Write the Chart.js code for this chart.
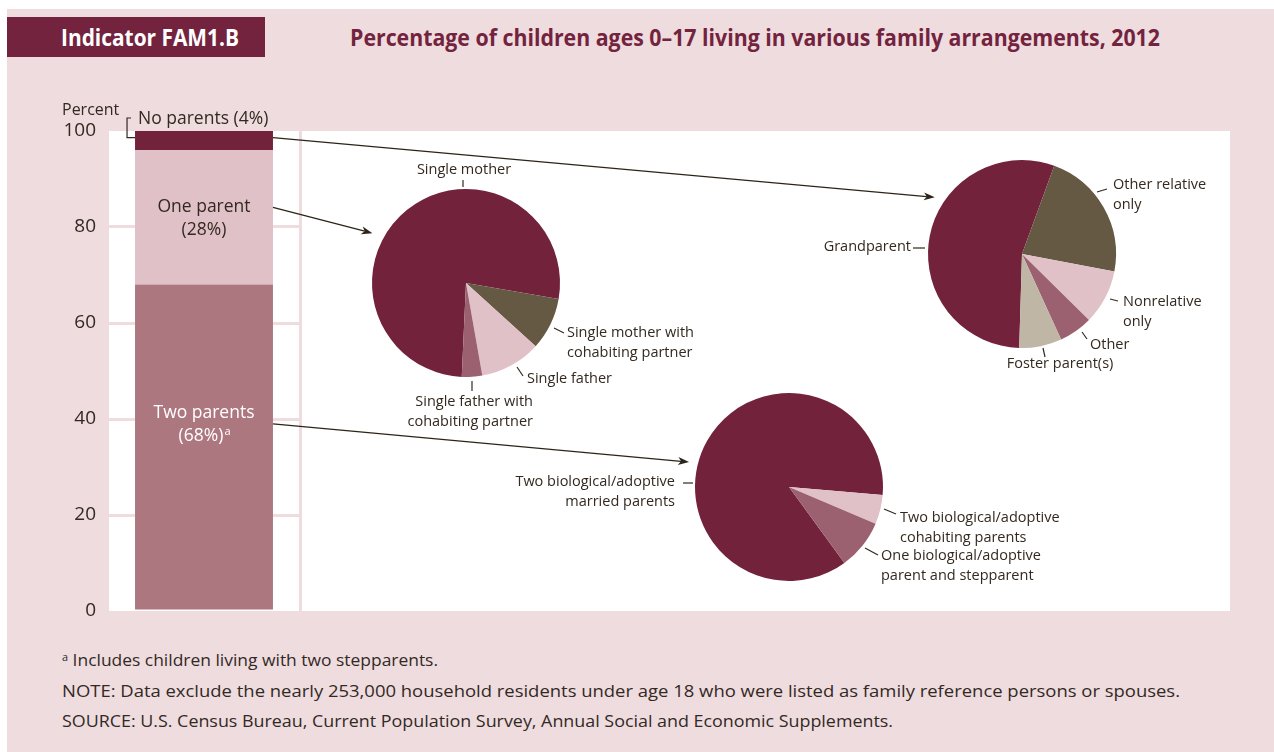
<!DOCTYPE html>
<html>
<head>
<meta charset="utf-8">
<title>Indicator FAM1.B</title>
<script src="https://cdn.jsdelivr.net/npm/chart.js@4.4.0/dist/chart.umd.min.js"></script>
<style>
  body { margin: 0; width: 1274px; height: 752px; overflow: hidden; position: relative; background: #fff;
         font-family: "Open Sans", sans-serif; color: #33291f; }
  .abs { position: absolute; white-space: nowrap; }
  #backdrop { left: 7px; top: 9px; width: 1267px; height: 743px; background: #eedcdf; }
  #band { left: 7px; top: 17px; width: 258px; height: 40px; background: #73233d; }
  .heading { top: 17px; line-height: 40px; font-weight: bold; font-size: 24px; transform-origin: left center; }
  #indicator { left: 61px; color: #fff; }
  #subtitle { left: 350px; color: #73233d; }
  #piePanel { left: 302px; top: 131px; width: 928px; height: 480px; background: #fff; }
  .note { left: 62px; font-size: 16px; line-height: 22px; transform-origin: left center; }
  .note sup { font-size: 10px; vertical-align: 5px; }
  canvas { position: absolute; }
</style>
</head>
<body>
<div id="backdrop" class="abs"></div>
<div id="band" class="abs"></div>
<div id="indicator" class="abs heading" data-w="178">Indicator FAM1.B</div>
<div id="subtitle" class="abs heading" data-w="810">Percentage of children ages 0–17 living in various family arrangements, 2012</div>
<div id="piePanel" class="abs"></div>
<div class="abs note" style="top:646px" data-w="376"><sup>a</sup> Includes children living with two stepparents.</div>
<div class="abs note" style="top:680px" data-w="1118">NOTE: Data exclude the nearly 253,000 household residents under age 18 who were listed as family reference persons or spouses.</div>
<div class="abs note" style="top:710px" data-w="831">SOURCE: U.S. Census Bureau, Current Population Survey, Annual Social and Economic Supplements.</div>

<canvas id="barChart"></canvas>
<canvas id="pieOne"></canvas>
<canvas id="pieNone"></canvas>
<canvas id="pieTwo"></canvas>
<canvas id="arrows"></canvas>

<script>
// ---- data ----
const barCategories = ["2012"];
const twoParents = [68];
const oneParent = [28];
const noParents = [4];
const yTicks = [0, 20, 40, 60, 80, 100];

const oneParentLabels = ["Single mother", "Single mother with cohabiting partner", "Single father", "Single father with cohabiting partner"];
const oneParentValues = [77, 9, 10.5, 3.5];

const noParentLabels = ["Grandparent", "Other relative only", "Nonrelative only", "Other", "Foster parent(s)"];
const noParentValues = [55.1, 22.4, 9.4, 5.8, 7.3];

const twoParentLabels = ["Two biological/adoptive married parents", "Two biological/adoptive cohabiting parents", "One biological/adoptive parent and stepparent"];
const twoParentValues = [86.4, 5.0, 8.6];

// ---- styling ----
const INK = "#33291f";
const PINK_BG = "#eedcdf";
const MAROON = "#73223c";
const OLIVE = "#655944";
const BLUSH = "#dfc1c7";
const MAUVE = "#9c6170";
const BEIGE = "#bfb6a6";
const ROSE = "#ad7780";
const FONT = '"Open Sans", sans-serif';

// stretch heading and note lines to their set widths
document.querySelectorAll("[data-w]").forEach(el => {
  const w = el.getBoundingClientRect().width;
  el.style.transform = "scaleX(" + (parseFloat(el.dataset.w) / w) + ")";
});

Chart.defaults.font.family = FONT;
Chart.defaults.color = INK;
Chart.defaults.animation = false;
Chart.defaults.devicePixelRatio = 1;
Chart.defaults.plugins.legend.display = false;
Chart.defaults.plugins.tooltip.enabled = false;

function place(canvas, left, top, w, h) {
  canvas.width = w;
  canvas.height = h;
  canvas.style.left = left + "px";
  canvas.style.top = top + "px";
  canvas.style.width = w + "px";
  canvas.style.height = h + "px";
}

// ---- stacked bar ----
const BAR_BOX = { left: 40, top: 95, w: 270, h: 530 };
const barCanvas = document.getElementById("barChart");
place(barCanvas, BAR_BOX.left, BAR_BOX.top, BAR_BOX.w, BAR_BOX.h);

const whiteArea = {
  id: "whiteArea",
  beforeDraw(chart) {
    const { ctx, chartArea: a } = chart;
    ctx.save();
    ctx.fillStyle = "#fff";
    ctx.fillRect(a.left, a.top, a.right - a.left, a.bottom - a.top);
    ctx.restore();
  }
};

const barNotes = {
  id: "barNotes",
  afterDraw(chart) {
    const ctx = chart.ctx;
    const y = chart.scales.y;
    const bar = chart.getDatasetMeta(0).data[0];
    const left = bar.x - bar.width / 2;
    ctx.save();
    ctx.textAlign = "center";
    ctx.textBaseline = "middle";
    ctx.font = "17.5px " + FONT;

    ctx.fillStyle = INK;
    const yOne = y.getPixelForValue(81.8);
    ctx.fillText("One parent", bar.x, yOne - 11.5);
    ctx.fillText("(28%)", bar.x, yOne + 11.5);

    ctx.fillStyle = "#fff";
    const yTwo = y.getPixelForValue(38.75);
    ctx.fillText("Two parents", bar.x, yTwo - 11.5);
    const pct = "(68%)";
    const w = ctx.measureText(pct).width;
    ctx.fillText(pct, bar.x - 3, yTwo + 11.5);
    ctx.font = "11px " + FONT;
    ctx.textAlign = "left";
    ctx.fillText("a", bar.x - 3 + w / 2 + 1, yTwo + 7);

    // bracket label for the thin top segment
    const yb = y.getPixelForValue(98.6);
    const yt = y.top - 13;
    ctx.strokeStyle = INK;
    ctx.lineWidth = 1.2;
    ctx.beginPath();
    ctx.moveTo(left - 4, yt);
    ctx.lineTo(left - 8, yt);
    ctx.lineTo(left - 8, yb);
    ctx.lineTo(left, yb);
    ctx.stroke();
    ctx.fillStyle = INK;
    ctx.font = "17.5px " + FONT;
    ctx.textBaseline = "middle";
    ctx.fillText("No parents (4%)", left + 3, yt + 1);

    ctx.textAlign = "left";
    ctx.font = "16px " + FONT;
    ctx.fillText("Percent", 22, yt - 8);
    ctx.restore();
  }
};

const barChart = new Chart(barCanvas, {
  type: "bar",
  data: {
    labels: barCategories,
    datasets: [
      { label: "Two parents", data: twoParents, backgroundColor: ROSE },
      { label: "One parent", data: oneParent, backgroundColor: BLUSH },
      { label: "No parents", data: noParents, backgroundColor: MAROON }
    ]
  },
  options: {
    responsive: false,
    layout: { autoPadding: false, padding: { left: 0, top: 36, right: 11, bottom: 14 } },
    datasets: { bar: { categoryPercentage: 1, barPercentage: 0.726, borderWidth: 0 } },
    scales: {
      x: { stacked: true, display: false },
      y: {
        stacked: true,
        min: 0,
        max: 100,
        afterFit(scale) {
          scale.width = 69;
          // the layout padding already leaves room for the end labels
          scale.paddingTop = 0;
          scale.paddingBottom = 0;
        },
        afterBuildTicks(scale) { scale.ticks = yTicks.map(v => ({ value: v })); },
        ticks: { padding: 13, font: { size: 19 }, color: INK },
        grid: {
          drawTicks: false,
          lineWidth: 3,
          color: c => (c.tick && (c.tick.value === 0 || c.tick.value === 100)) ? "rgba(0,0,0,0)" : PINK_BG
        },
        border: { display: false }
      }
    }
  },
  plugins: [whiteArea, barNotes]
});

// ---- pies ----
const pieNotes = {
  id: "pieNotes",
  afterDraw(chart, args, opts) {
    const arc = chart.getDatasetMeta(0).data[0];
    const cx = arc.x, cy = arc.y;
    const ctx = chart.ctx;
    ctx.save();
    ctx.strokeStyle = INK;
    ctx.lineWidth = 1.2;
    ctx.fillStyle = INK;
    ctx.font = "14.5px " + FONT;
    ctx.textBaseline = "middle";
    (opts.items || []).forEach(it => {
      ctx.beginPath();
      ctx.moveTo(cx + it.lead[0], cy + it.lead[1]);
      ctx.lineTo(cx + it.lead[2], cy + it.lead[3]);
      ctx.stroke();
      ctx.textAlign = it.align;
      it.text.forEach((line, i) => ctx.fillText(line, cx + it.at[0], cy + it.at[1] + i * 20));
    });
    ctx.restore();
  }
};

function makePie(id, cx, cy, r, pad, labels, values, colors, rotation, items) {
  const canvas = document.getElementById(id);
  const w = pad.l + 2 * r + pad.r;
  const h = pad.t + 2 * r + pad.b;
  place(canvas, cx - r - pad.l, cy - r - pad.t, w, h);
  return new Chart(canvas, {
    type: "pie",
    data: {
      labels: labels,
      datasets: [{ data: values, backgroundColor: colors, borderWidth: 0, hoverOffset: 0, offset: 0 }]
    },
    options: {
      responsive: false,
      rotation: rotation,
      layout: { padding: { left: pad.l, right: pad.r, top: pad.t, bottom: pad.b } },
      plugins: { pieNotes: { items: items } }
    },
    plugins: [pieNotes]
  });
}

const pieOne = makePie("pieOne", 466, 283, 94, { l: 110, r: 240, t: 130, b: 160 },
  oneParentLabels, oneParentValues, [MAROON, OLIVE, BLUSH, MAUVE], 182.6, [
    { text: ["Single mother"], lead: [-3, -103, -3, -96], at: [-2, -113], align: "center" },
    { text: ["Single mother with", "cohabiting partner"], lead: [88, 45, 98, 50], at: [101, 50], align: "left" },
    { text: ["Single father"], lead: [51, 84, 57, 93], at: [61, 96], align: "left" },
    { text: ["Single father with", "cohabiting partner"], lead: [6, 98, 6, 108], at: [67, 119], align: "right" }
  ]);

const pieNone = makePie("pieNone", 1022, 254, 94, { l: 215, r: 150, t: 100, b: 130 },
  noParentLabels, noParentValues, [MAROON, OLIVE, BLUSH, MAUVE, BEIGE], 181.7, [
    { text: ["Other relative", "only"], lead: [75, -62, 85, -65], at: [91, -69], align: "left" },
    { text: ["Grandparent"], lead: [-109, -6, -97, -6], at: [-111, -7], align: "right" },
    { text: ["Nonrelative", "only"], lead: [88, 45, 96, 47], at: [101, 48], align: "left" },
    { text: ["Other"], lead: [60, 78, 65, 85], at: [68, 91], align: "left" },
    { text: ["Foster parent(s)"], lead: [21, 94, 23, 103], at: [38, 110], align: "center" }
  ]);

const pieTwo = makePie("pieTwo", 789, 487, 94, { l: 300, r: 300, t: 110, b: 110 },
  twoParentLabels, twoParentValues, [MAROON, BLUSH, MAUVE], 143.9, [
    { text: ["Two biological/adoptive", "married parents"], lead: [-106, -4, -96, -4], at: [-114, -5], align: "right" },
    { text: ["Two biological/adoptive", "cohabiting parents"], lead: [95, 22, 107, 27], at: [111, 31], align: "left" },
    { text: ["One biological/adoptive", "parent and stepparent"], lead: [76, 61, 89, 68], at: [92, 69], align: "left" }
  ]);

// ---- arrows from bar segments to their breakdown pies ----
const arrowCanvas = document.getElementById("arrows");
place(arrowCanvas, 0, 0, 1274, 752);
const actx = arrowCanvas.getContext("2d");

function canvasOffset(chart) {
  return { x: parseFloat(chart.canvas.style.left), y: parseFloat(chart.canvas.style.top) };
}

function drawArrow(value, pie, angleDeg, gap) {
  const bo = canvasOffset(barChart);
  const bar = barChart.getDatasetMeta(0).data[0];
  const x0 = bo.x + bar.x + bar.width / 2;
  const y0 = bo.y + barChart.scales.y.getPixelForValue(value);
  const po = canvasOffset(pie);
  const arc = pie.getDatasetMeta(0).data[0];
  const a = angleDeg * Math.PI / 180;
  const d = arc.outerRadius + gap;
  const x1 = po.x + arc.x + d * Math.sin(a);
  const y1 = po.y + arc.y - d * Math.cos(a);
  const t = Math.atan2(y1 - y0, x1 - x0);
  actx.beginPath();
  actx.moveTo(x0, y0);
  actx.lineTo(x1 - 8 * Math.cos(t), y1 - 8 * Math.sin(t));
  actx.stroke();
  actx.beginPath();
  actx.moveTo(x1, y1);
  actx.lineTo(x1 - 11 * Math.cos(t) + 4 * Math.sin(t), y1 - 11 * Math.sin(t) - 4 * Math.cos(t));
  actx.lineTo(x1 - 8 * Math.cos(t), y1 - 8 * Math.sin(t));
  actx.lineTo(x1 - 11 * Math.cos(t) - 4 * Math.sin(t), y1 - 11 * Math.sin(t) + 4 * Math.cos(t));
  actx.closePath();
  actx.fill();
}

actx.strokeStyle = "#2b2418";
actx.fillStyle = "#2b2418";
actx.lineWidth = 1.3;
drawArrow(98.6, pieNone, 303, 10);
drawArrow(84.1, pieOne, 298, 12);
drawArrow(39, pieTwo, 284, 9);
</script>
</body>
</html>
